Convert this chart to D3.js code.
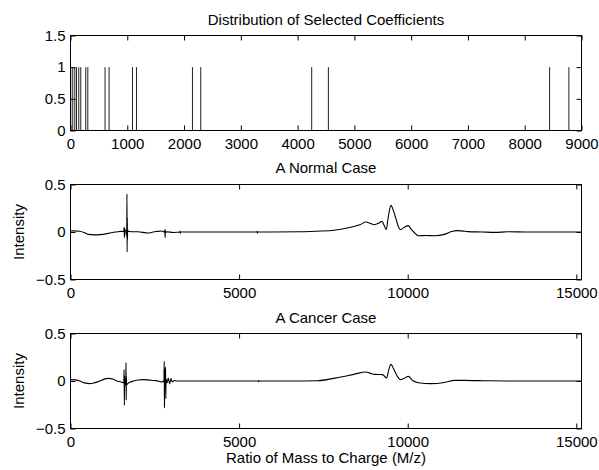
<!DOCTYPE html>
<html>
<head>
<meta charset="utf-8">
<script src="https://cdn.jsdelivr.net/npm/d3@7/dist/d3.min.js"></script>
<style>
  html, body { margin: 0; padding: 0; background: #fff; }
  svg { display: block; }
  text { font-family: "Liberation Sans", Arial, Helvetica, sans-serif; fill: #000; }
</style>
</head>
<body>
<svg id="chart" width="599" height="470"></svg>
<script>
// ---------- DATA ----------
const coefTitle = "Distribution of Selected Coefficients";
const normalTitle = "A Normal Case";
const cancerTitle = "A Cancer Case";
const xAxisLabel = "Ratio of Mass to Charge (M/z)";
const yAxisLabel = "Intensity";

// indices of selected coefficients (each drawn as a spike of height 1)
const selectedCoefficients = [5, 40, 76, 106, 146, 181, 269, 305, 609, 680, 1092, 1162, 2148, 2294, 4248, 4542, 8438, 8778];
const selectedValue = 1;

const coefXTicks = [0, 1000, 2000, 3000, 4000, 5000, 6000, 7000, 8000, 9000];
const coefYTicks = [0, 0.5, 1, 1.5];
const coefXDomain = [0, 9000];
const coefYDomain = [0, 1.5];

const spectrumXTicks = [0, 5000, 10000, 15000];
const spectrumYTicks = [-0.5, 0, 0.5];
const spectrumXDomain = [0, 15154];
const spectrumYDomain = [-0.5, 0.5];

// Normal case spectrum: [M/z index, intensity]
const normalSpectrum = [
  [0, 0.01], [100, 0.012], [277, 0.008], [400, -0.005], [524, -0.025], [700, -0.03], [872, -0.028],
  [1050, -0.02], [1170, -0.01], [1350, 0.0], [1518, 0.007], [1580, 0.005], [1590, 0.05], [1598, -0.06],
  [1606, 0.04], [1614, -0.03], [1622, 0.01], [1660, 0.02], [1668, -0.05], [1674, 0.40], [1679, -0.21],
  [1684, 0.15], [1689, -0.08], [1694, 0.02], [1720, 0.005], [1863, 0.003], [2000, 0.002], [2310, -0.01],
  [2450, 0.0], [2560, 0.005], [2700, 0.01], [2790, 0.0], [2800, 0.025], [2806, -0.06], [2812, 0.02],
  [2818, -0.01], [2850, 0.003], [3054, -0.005], [3240, 0], [3250, 0.01], [3256, -0.015], [3262, 0],
  [3500, 0], [5530, 0], [5536, 0.008], [5542, -0.012], [5548, 0], [6000, 0], [6824, 0.002],
  [7300, 0.008], [7815, 0.018], [8313, 0.05], [8600, 0.08], [8759, 0.105], [8900, 0.09], [9007, 0.077],
  [9150, 0.095], [9235, 0.112], [9300, 0.07], [9363, 0.025], [9420, 0.15], [9503, 0.28], [9580, 0.22],
  [9652, 0.14], [9720, 0.06], [9780, 0.025], [9899, 0.05], [10018, 0.067], [10100, 0.03], [10177, 0],
  [10315, -0.04], [10550, -0.037], [10791, -0.04], [11089, -0.025], [11300, 0.005], [11438, 0.014],
  [11600, 0.012], [11786, 0.004], [12200, 0.0], [12578, -0.004], [12976, 0.002], [13500, 0], [15154, 0]
];

// Cancer case spectrum: [M/z index, intensity]
const cancerSpectrum = [
  [0, 0.014], [150, 0.012], [277, 0], [420, -0.02], [574, -0.028], [700, -0.02], [872, 0],
  [1000, 0.02], [1120, 0.028], [1250, 0.02], [1369, 0.0], [1500, -0.01], [1580, -0.02], [1590, 0.12],
  [1598, -0.256], [1605, 0.05], [1612, -0.05], [1640, -0.02], [1646, 0.193], [1652, -0.2], [1658, 0.05],
  [1664, -0.04], [1696, -0.028], [1780, -0.01], [1863, 0], [2000, 0.01], [2161, 0.014], [2300, 0.012],
  [2459, 0.005], [2600, 0.0], [2708, -0.01], [2770, 0], [2780, 0.207], [2786, -0.28], [2792, 0.03],
  [2820, 0.147], [2827, -0.186], [2833, 0.02], [2860, -0.02], [2900, 0.03], [2940, -0.03], [2980, 0.025],
  [3020, -0.01], [3080, 0.005], [3150, 0], [3253, 0], [5570, 0], [5575, 0.006], [5580, -0.008],
  [5586, 0], [6500, 0], [7321, 0.003], [8015, 0.042], [8400, 0.07], [8759, 0.095], [8900, 0.08],
  [9007, 0.07], [9256, 0.067], [9375, 0.032], [9440, 0.12], [9503, 0.175], [9580, 0.13], [9652, 0.077],
  [9720, 0.035], [9780, 0.014], [9899, 0.03], [10018, 0.049], [10148, 0.005], [10315, -0.018],
  [10693, -0.028], [11089, -0.015], [11387, 0.007], [11684, 0.007], [12380, 0.002], [13000, 0], [15154, 0]
];

// ---------- LAYOUT ----------
const svg = d3.select("#chart");
const left = 70.5, right = 581.5;
const panels = [
  { top: 35.5, bottom: 130.5 },
  { top: 184.5, bottom: 279.5 },
  { top: 333.5, bottom: 428.5 }
];
const fontSize = 15;
const tickLen = 5;

function fmt(v) { return String(v); }

function drawFrame(g, x, y, xTicks, yTicks, p) {
  const ax = g.append("g").attr("transform", `translate(0,${p.bottom})`)
    .call(d3.axisBottom(x).tickValues(xTicks).tickFormat(fmt).tickSizeInner(-tickLen).tickSizeOuter(0).tickPadding(8));
  ax.select(".domain").remove();
  const at = g.append("g").attr("transform", `translate(0,${p.top})`)
    .call(d3.axisTop(x).tickValues(xTicks).tickFormat("").tickSizeInner(-tickLen).tickSizeOuter(0));
  at.select(".domain").remove();
  const al = g.append("g").attr("transform", `translate(${left},0)`)
    .call(d3.axisLeft(y).tickValues(yTicks).tickFormat(d => d < 0 ? "\u2212" + Math.abs(d) : fmt(d)).tickSizeInner(-tickLen).tickSizeOuter(0).tickPadding(5));
  al.select(".domain").remove();
  const ar = g.append("g").attr("transform", `translate(${right},0)`)
    .call(d3.axisRight(y).tickValues(yTicks).tickFormat("").tickSizeInner(-tickLen).tickSizeOuter(0));
  ar.select(".domain").remove();

  g.selectAll(".tick line").attr("stroke", "#000").attr("stroke-width", 1);
  g.selectAll(".tick text").attr("font-size", fontSize).attr("font-family", '"Liberation Sans", Arial, sans-serif').attr("fill", "#000");

  g.append("rect")
    .attr("x", left).attr("y", p.top)
    .attr("width", right - left).attr("height", p.bottom - p.top)
    .attr("fill", "none").attr("stroke", "#000").attr("stroke-width", 1);
}

function title(text, yBase) {
  svg.append("text").attr("x", (left + right) / 2).attr("y", yBase)
    .attr("text-anchor", "middle").attr("font-size", fontSize).text(text);
}

// ---------- PANEL 1: selected coefficients ----------
{
  const p = panels[0];
  const x = d3.scaleLinear().domain(coefXDomain).range([left, right]);
  const y = d3.scaleLinear().domain(coefYDomain).range([p.bottom, p.top]);
  const g = svg.append("g");
  g.append("g").selectAll("line").data(selectedCoefficients).join("line")
    .attr("x1", d => x(d)).attr("x2", d => x(d))
    .attr("y1", y(0)).attr("y2", y(selectedValue))
    .attr("stroke", "#222").attr("stroke-width", 1);
  drawFrame(g, x, y, coefXTicks, coefYTicks, p);
  title(coefTitle, 24.5);
}

// ---------- PANELS 2 & 3: spectra ----------
function spectrumPanel(p, data, titleText, titleY) {
  const x = d3.scaleLinear().domain(spectrumXDomain).range([left, right]);
  const y = d3.scaleLinear().domain(spectrumYDomain).range([p.bottom, p.top]);
  const g = svg.append("g");
  const line = d3.line().x(d => x(d[0])).y(d => y(d[1])).curve(d3.curveMonotoneX);
  g.append("path").datum(data).attr("d", line)
    .attr("fill", "none").attr("stroke", "#000").attr("stroke-width", 1.1).attr("stroke-linejoin", "round");
  drawFrame(g, x, y, spectrumXTicks, spectrumYTicks, p);
  title(titleText, titleY);
  svg.append("text")
    .attr("transform", `translate(24,${(p.top + p.bottom) / 2}) rotate(-90)`)
    .attr("text-anchor", "middle").attr("font-size", fontSize).text(yAxisLabel);
}
spectrumPanel(panels[1], normalSpectrum, normalTitle, 173);
spectrumPanel(panels[2], cancerSpectrum, cancerTitle, 322.5);

svg.append("text").attr("x", (left + right) / 2).attr("y", 463)
  .attr("text-anchor", "middle").attr("font-size", fontSize).text(xAxisLabel);
</script>
</body>
</html>
